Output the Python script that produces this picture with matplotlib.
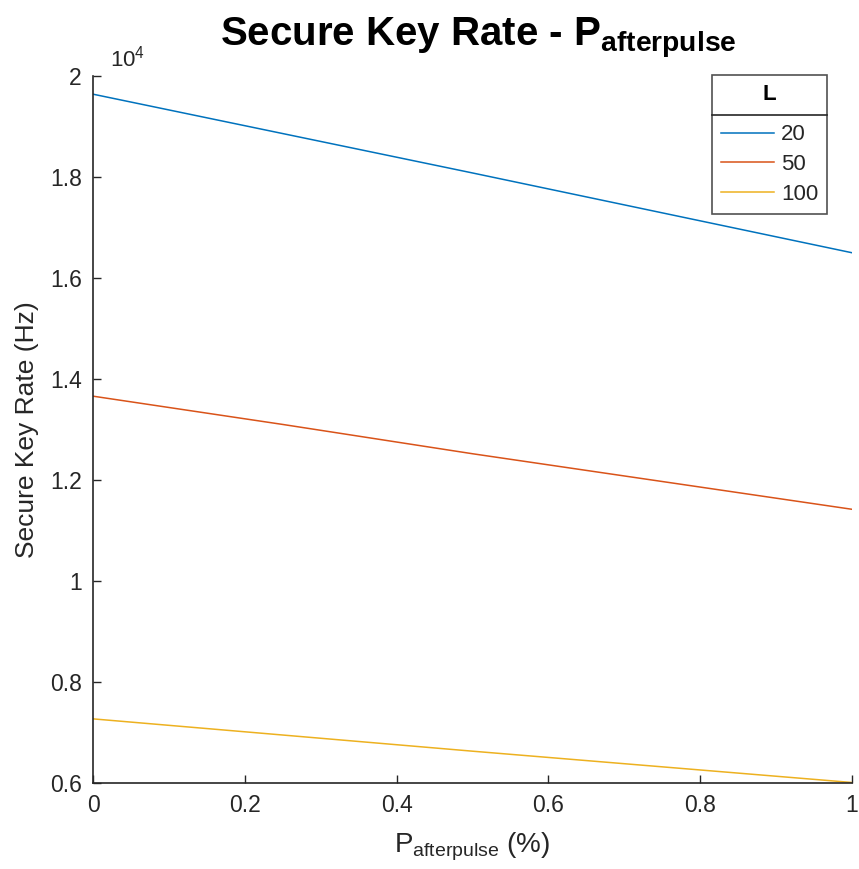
import matplotlib
matplotlib.use("Agg")
import matplotlib.pyplot as plt
from matplotlib.ticker import FixedLocator, FuncFormatter
from matplotlib.lines import Line2D

plt.rcParams['font.family'] = ['Liberation Sans', 'DejaVu Sans']
plt.rcParams['mathtext.fontset'] = 'custom'
plt.rcParams['mathtext.rm'] = 'Liberation Sans'
plt.rcParams['mathtext.it'] = 'Liberation Sans:italic'
plt.rcParams['mathtext.bf'] = 'Liberation Sans:bold'

# Data
p_afterpulse = [0.0, 0.25, 0.5, 0.75, 1.0]
L_values = ['20', '50', '100']
rate_L20 = [19640, 18860, 18080, 17290, 16500]
rate_L50 = [13660, 13100, 12520, 11970, 11420]
rate_L100 = [7270, 6950, 6630, 6320, 6010]
x_ticks = [0, 0.2, 0.4, 0.6, 0.8, 1]
y_ticks = [6000, 8000, 10000, 12000, 14000, 16000, 18000, 20000]

colors = ['#0072BD', '#D95319', '#EDB120']
dark = '#262626'

W, H = 859, 869
fig = plt.figure(figsize=(W / 100, H / 100), dpi=100)
ax = fig.add_axes([93 / W, 1 - 783 / H, (852 - 93) / W, (783 - 76) / H])

for ys, c, lab in zip([rate_L20, rate_L50, rate_L100], colors, L_values):
    ax.plot(p_afterpulse, ys, color=c, lw=1.1, label=lab)

ax.set_xlim(0, 1)
ax.set_ylim(6000, 20000)
ax.xaxis.set_major_locator(FixedLocator(x_ticks))
ax.yaxis.set_major_locator(FixedLocator(y_ticks))
ax.xaxis.set_major_formatter(FuncFormatter(lambda v, p: '%g' % v))
ax.yaxis.set_major_formatter(FuncFormatter(lambda v, p: '%g' % (v / 1e4)))

for s in ['top', 'right']:
    ax.spines[s].set_visible(False)
for s in ['left', 'bottom']:
    ax.spines[s].set_color(dark)
    ax.spines[s].set_linewidth(1.2)
ax.tick_params(direction='in', length=6, width=1, colors=dark,
               labelsize=16.5, pad=8)

ax.text(0.022, 1.006, r'$10^4$', transform=ax.transAxes, fontsize=16,
        color=dark, ha='left', va='bottom')

ax.set_ylabel('Secure Key Rate (Hz)', fontsize=19, color=dark, labelpad=8)
ax.set_xlabel(r'P$_{\mathrm{afterpulse}}$ (%)', fontsize=20, color=dark, labelpad=10)
ax.set_title(r'Secure Key Rate - P$_{\mathbf{afterpulse}}$', fontsize=29,
             fontweight='bold', color='black', pad=22, x=0.507)

leg = ax.legend(title='L', loc='upper right', bbox_to_anchor=(827 / W, 1 - 75 / H),
                bbox_transform=fig.transFigure, fontsize=16, frameon=True,
                fancybox=False, edgecolor=dark, handlelength=2.4,
                handletextpad=0.3, borderpad=0.4, labelspacing=0.4,
                borderaxespad=0,
                title_fontproperties={'weight': 'bold', 'size': 16})
leg.get_frame().set_linewidth(1.2)
for t in leg.get_texts():
    t.set_color(dark)
leg._legend_box.sep = 14

fig.canvas.draw()
bb = leg.get_window_extent()
tb = leg.get_title().get_window_extent()
t0 = leg.get_texts()[0].get_window_extent()
ysep = (tb.y0 + t0.y1) / 2
fig.add_artist(Line2D([bb.x0 / W, bb.x1 / W], [ysep / H, ysep / H],
                      transform=fig.transFigure, color=dark, lw=1.2))

fig.savefig('out.png', dpi=100)
